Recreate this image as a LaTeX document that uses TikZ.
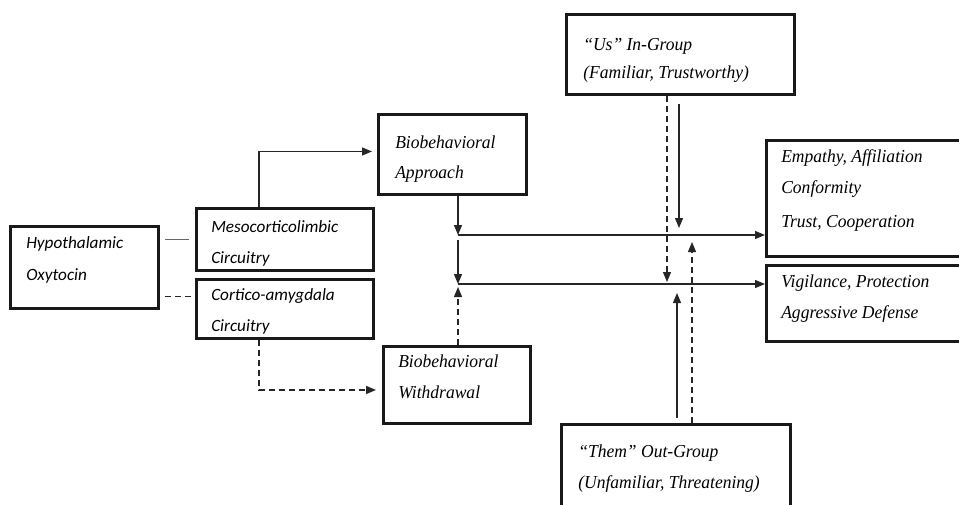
\documentclass[tikz,border=0pt]{standalone}
\usepackage{fontspec}
\usetikzlibrary{arrows.meta,calc}
\newfontfamily\calfont{Carlito}
\newfontfamily\camfont[FakeStretch=0.96]{Liberation Serif}
\begin{document}
\begin{tikzpicture}[x=0.75pt,y=-0.75pt,
  box/.style={draw=black!90,line width=2.2pt,rectangle,inner sep=0pt,anchor=north west},
  ser/.style={anchor=base west,inner sep=0pt,font=\camfont\itshape\fontsize{13.7}{15}\selectfont,text=black},
  sans/.style={anchor=base west,inner sep=0pt,font=\calfont\itshape\fontsize{12.9}{15}\selectfont,text=black},
  conn/.style={draw=black!85,line width=0.95pt},
  arr/.style={conn,-{Triangle[length=7.5pt,width=6pt]}},
  dsh/.style={dash pattern=on 4.5pt off 3pt}]
\useasboundingbox (0,0) rectangle (959,504);
\clip (0,0) rectangle (959,504);
% boxes
\node[box,minimum width=148*0.75pt,minimum height=82*0.75pt] (hyp) at (9,225) {};
\node[box,minimum width=177*0.75pt,minimum height=62*0.75pt] (meso) at (195,207) {};
\node[box,minimum width=177*0.75pt,minimum height=59*0.75pt] (cort) at (195,278) {};
\node[box,minimum width=148*0.75pt,minimum height=80*0.75pt] (appr) at (377,113) {};
\node[box,minimum width=147*0.75pt,minimum height=77*0.75pt] (withd) at (382,345) {};
\node[box,minimum width=228*0.75pt,minimum height=80*0.75pt] (us) at (565,13) {};
\node[box,minimum width=229*0.75pt,minimum height=120*0.75pt] (them) at (560,423) {};
\node[box,minimum width=210*0.75pt,minimum height=116*0.75pt] (emp) at (765,139) {};
\node[box,minimum width=210*0.75pt,minimum height=76*0.75pt] (vig) at (765,264) {};
% texts
\node[sans] (hyp1) at (26,248) {Hypothalamic};
\node[sans] (hyp2) at (26,280) {Oxytocin};
\node[sans] (meso1) at (211,232) {Mesocorticolimbic};
\node[sans] (meso2) at (211,263) {Circuitry};
\node[sans] (cort1) at (211,300) {Cortico-amygdala};
\node[sans] (cort2) at (211,331) {Circuitry};
\node[ser] (appr1) at (395,148) {Biobehavioral};
\node[ser] (appr2) at (395,178) {Approach};
\node[ser] (withd1) at (398,367) {Biobehavioral};
\node[ser] (withd2) at (398,398) {Withdrawal};
\node[ser] (us1) at (583,50) {“Us” In-Group};
\node[ser] (us2) at (583,78) {(Familiar, Trustworthy)};
\node[ser] (them1) at (578,457) {“Them” Out-Group};
\node[ser] (them2) at (578,488) {(Unfamiliar, Threatening)};
\node[ser] (emp1) at (781,162) {Empathy, Affiliation};
\node[ser] (emp2) at (781,193) {Conformity};
\node[ser] (emp3) at (781,227) {Trust, Cooperation};
\node[ser] (vig1) at (781,287) {Vigilance, Protection};
\node[ser] (vig2) at (781,318) {Aggressive Defense};
% junctions
\coordinate (j1) at (458,235);
\coordinate (j2) at (458,284);
\coordinate (hm) at ($(hyp.east |- meso.west)+(5,0)$);
\coordinate (hc) at ($(hyp.east)+(5,29)$);
% left connectors
\draw[conn,draw=black!60,line width=1.15pt] (hm) -- ($(meso.west)+(-6,0)$);
\draw[conn,dsh,line width=1.15pt] (hc) -- (cort.west |- hc);
\draw[arr] ($(meso.north west)+(64,0)$) |- ($(appr.west)+(-5,-3)$);
\draw[arr,dsh] ($(cort.south west)+(64,0)$) |- ($(withd.west)+(-6,5)$);
% central
\draw[arr] (j1 |- appr.south) -- (j1);
\draw[arr] (j1) -- (emp.west |- j1);
\draw[arr] ($(j1)+(0,5)$) -- (j2);
\draw[arr] (j2) -- (vig.west |- j2);
\draw[arr,dsh] (j2 |- withd.north) -- ($(j2)+(0,3)$);
% in-group
\draw[arr,dsh] (us.south -| 667,0) -- (667,282);
\draw[arr] ($(us.south -| 679,0)+(0,8)$) -- (679,228);
% out-group
\draw[arr] ($(them.north -| 677,0)+(0,-5)$) -- (677,293);
\draw[arr,dsh] (them.north -| 692,0) -- (692,242);
\end{tikzpicture}
\end{document}
